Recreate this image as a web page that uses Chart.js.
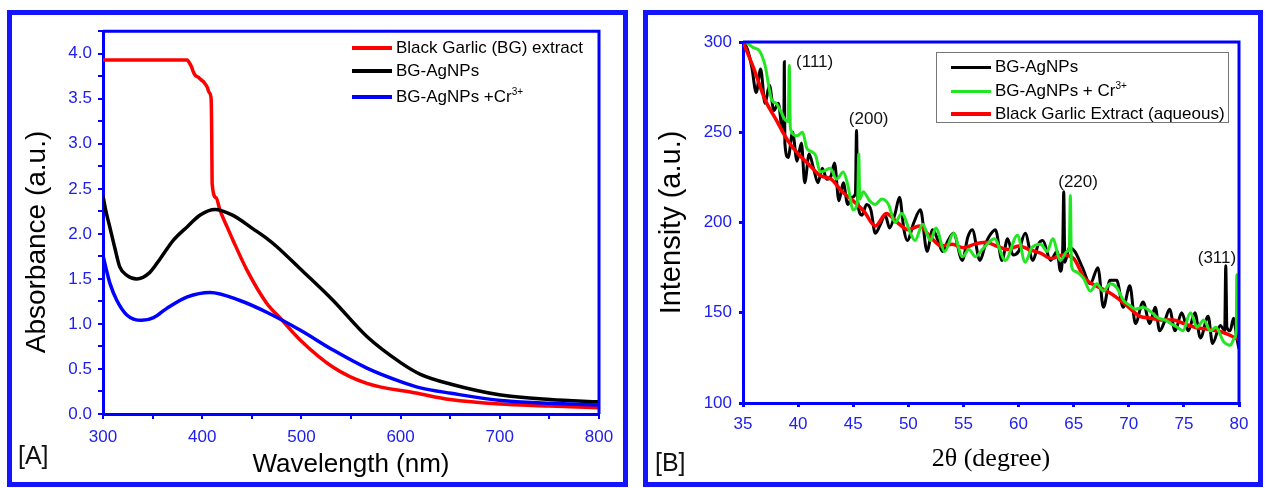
<!DOCTYPE html>
<html>
<head>
<meta charset="utf-8">
<script src="https://cdn.jsdelivr.net/npm/chart.js@4/dist/chart.umd.min.js"></script>
<style>
body { margin: 0; background: #fff; width: 1266px; height: 488px; position: relative; overflow: hidden;
       font-family: "Liberation Sans", Arial, sans-serif; }
.panel { position: absolute; top: 10px; height: 467px; border: 5px solid #1414ff; }
#panelA { left: 7px; width: 611px; }
#panelB { left: 643px; width: 610px; }
.panel canvas { position: absolute; left: 0; top: 0; }
.tag { position: absolute; font-size: 25px; line-height: 30px; color: #111; }
.legend { position: absolute; font-size: 17px; color: #000; }
.row { position: absolute; left: 0; height: 22px; display: flex; align-items: center; white-space: nowrap; }
.swatch { display: inline-block; width: 40px; height: 4px; margin-right: 4px; }
sup { font-size: 10px; line-height: 0; vertical-align: 7px; }
#legB { border: 1px solid #777; background: #fff; }
.ytitle { position: absolute; width: 280px; height: 34px; line-height: 34px; text-align: center;
          font-size: 28px; color: #000; transform: rotate(-90deg); }
</style>
</head>
<body>

<div class="panel" id="panelA">
  <canvas id="chartA" width="611" height="467"></canvas>
  <div class="ytitle" style="left:-116px;top:210px">Absorbance (a.u.)</div>
  <div class="legend" style="left:340px;top:22px;width:260px;height:80px">
    <div class="row" style="top:0"><span class="swatch" style="background:#ff0000"></span><span>Black Garlic (BG) extract</span></div>
    <div class="row" style="top:23px"><span class="swatch" style="background:#000"></span><span>BG-AgNPs</span></div>
    <div class="row" style="top:49px"><span class="swatch" style="background:#0000ff"></span><span>BG-AgNPs +Cr<sup>3+</sup></span></div>
  </div>
  <div class="tag" style="left:6px;top:425px">[A]</div>
</div>

<div class="panel" id="panelB">
  <canvas id="chartB" width="610" height="467"></canvas>
  <div class="legend" id="legB" style="left:288px;top:37px;width:291px;height:69px">
    <div class="row" style="top:3px;left:14px"><span class="swatch" style="background:#000;height:3px"></span><span>BG-AgNPs</span></div>
    <div class="row" style="top:27px;left:14px"><span class="swatch" style="background:#22e622;height:3px"></span><span>BG-AgNPs + Cr<sup>3+</sup></span></div>
    <div class="row" style="top:50px;left:14px"><span class="swatch" style="background:#ff0000"></span><span>Black Garlic Extract (aqueous)</span></div>
  </div>
  <div class="tag" style="left:7px;top:432px">[B]</div>
</div>

<script>
// ---- panel A : UV-vis absorbance ----
let extractWl  = [300, 340, 385, 387, 389, 391, 393, 396, 399, 402, 405, 407, 409, 409.6, 410, 414, 418, 425, 431, 445, 465, 479, 499, 532, 566, 617, 650, 700, 750, 800];
let extractAbs = [3.93, 3.93, 3.93, 3.90, 3.86, 3.80, 3.76, 3.74, 3.71, 3.68, 3.63, 3.57, 3.50, 3.10, 2.56, 2.40, 2.26, 2.08, 1.93, 1.60, 1.23, 1.06, 0.82, 0.52, 0.34, 0.23, 0.16, 0.11, 0.09, 0.07];

let agnpWl  = [300, 303, 307, 312, 317, 324, 334, 347, 358, 371, 385, 398, 413, 430, 452, 465, 475, 499, 532, 566, 600, 620, 651, 701, 751, 800];
let agnpAbs = [2.42, 2.25, 2.07, 1.84, 1.63, 1.54, 1.50, 1.57, 1.73, 1.93, 2.08, 2.21, 2.27, 2.21, 2.05, 1.95, 1.86, 1.61, 1.26, 0.86, 0.57, 0.44, 0.33, 0.21, 0.16, 0.135];

let crWl  = [300, 303, 307, 314, 324, 339, 351, 364, 385, 408, 438, 465, 499, 532, 566, 600, 620, 651, 701, 751, 800];
let crAbs = [1.76, 1.62, 1.45, 1.26, 1.10, 1.04, 1.07, 1.17, 1.30, 1.35, 1.26, 1.13, 0.93, 0.71, 0.51, 0.36, 0.29, 0.23, 0.15, 0.12, 0.10];

// ---- panel B : XRD ----
let blackTheta = [35.0, 35.4, 35.8, 36.2, 36.6, 37.0, 37.4, 37.8, 38.2, 38.6, 38.7, 38.75, 38.8, 39.1, 39.5, 39.9, 40.3, 40.6, 41.0, 41.4,
  41.8, 42.2, 42.6, 43.0, 43.3, 43.7, 44.1, 44.5, 44.9, 45.2, 45.3, 45.4, 45.8, 46.2, 46.6, 47.0, 47.4, 47.9, 48.3, 48.8,
  49.2, 49.6, 49.9, 50.5, 51.1, 51.7, 52.2, 52.7, 53.1, 53.6, 54.1, 54.9, 55.4, 55.8, 56.5, 57.0, 57.3, 57.9, 58.5, 59.0,
  59.5, 60.0, 60.6, 61.3, 61.8, 62.2, 62.9, 63.5, 63.8, 64.0, 64.1, 64.2, 64.6, 65.1, 65.8, 66.5, 67.2, 67.7, 68.3, 68.9,
  69.5, 70.1, 70.6, 71.3, 71.9, 72.4, 72.8, 73.3, 73.7, 74.2, 74.8, 75.4, 76.0, 76.5, 77.2, 77.6, 78.3, 78.7, 78.8, 78.9,
  79.2, 79.5, 79.8, 80.0];
let blackI = [300, 296, 286, 272, 285, 266, 276, 262, 266, 250, 252, 289, 244, 236, 250, 234, 244, 222, 238, 230,
  222, 230, 224, 226, 233, 212, 222, 210, 214, 216, 251, 212, 204, 210, 207, 194, 198, 204, 197, 205,
  214, 196, 190, 200, 207, 184, 196, 190, 184, 190, 194, 179, 192, 196, 179, 188, 192, 196, 179, 191,
  182, 184, 194, 179, 188, 190, 179, 184, 173, 184, 217, 178, 186, 184, 175, 166, 175, 153, 168, 168,
  153, 165, 144, 156, 144, 153, 140, 146, 152, 140, 150, 140, 150, 136, 148, 133, 143, 140, 176, 142,
  140, 147, 136, 130];

let greenTheta = [35.3, 35.9, 36.5, 37.0, 37.6, 38.0, 38.4, 38.8, 39.1, 39.2, 39.3, 39.9, 40.4, 40.8, 41.3, 41.6, 42.0, 42.5, 42.9, 43.5,
  44.1, 44.5, 45.0, 45.4, 45.5, 45.6, 45.9, 46.5, 47.0, 47.6, 48.2, 48.8, 49.4, 50.2, 50.6, 51.3, 52.0, 52.5, 53.3, 54.1,
  54.9, 55.5, 56.1, 56.7, 57.3, 57.8, 58.8, 59.9, 60.6, 61.2, 62.0, 62.6, 63.1, 63.8, 64.4, 64.6, 64.7, 64.8, 65.1, 65.9,
  66.5, 67.1, 67.7, 68.3, 68.9, 69.5, 70.1, 70.6, 71.3, 71.9, 72.7, 73.3, 73.8, 74.4, 74.9, 75.6, 76.2, 76.8, 77.4, 77.9,
  78.6, 79.2, 79.6, 79.75, 79.8, 79.85];
let greenI = [300, 297, 295, 287, 268, 266, 262, 257, 256, 287, 252, 248, 250, 241, 239, 237, 228, 229, 230, 224,
  228, 221, 207, 212, 238, 213, 217, 212, 210, 213, 210, 200, 205, 194, 190, 199, 190, 197, 184, 194,
  181, 185, 181, 185, 189, 191, 179, 193, 178, 186, 188, 184, 191, 179, 184, 186, 215, 176, 173, 169,
  162, 166, 162, 166, 164, 157, 154, 152, 153, 151, 147, 146, 144, 142, 140, 150, 142, 146, 140, 142,
  134, 132, 136, 140, 171, 141];

let redTheta = [35, 36, 37, 38, 39, 40, 41, 42, 43, 44, 45, 46, 47, 48, 49, 50, 51, 52, 53, 54, 55, 56, 57,
  58, 59, 60, 61, 62, 63, 64, 65, 66, 67, 68, 69, 70, 71, 72, 73, 74, 75, 76, 77, 78, 79, 80];
let redI = [300, 285, 268, 257, 246, 238, 232, 226, 224, 217, 212, 206, 198, 205, 200, 196, 198, 192, 187, 188, 186, 188, 189,
  187, 185, 187, 185, 183, 180, 182, 180, 169, 165, 162, 158, 153, 148, 147, 146, 146, 144, 142, 141, 140, 138, 135];

let peakText  = ['(111)', '(200)', '(220)', '(311)'];
let peakTheta = [41.5, 46.4, 65.4, 78.0];
let peakLevel = [289, 257, 222, 180];

const blue = '#0000ff';
const tickBlue = '#2020ee';
const font = '"Liberation Sans", Arial, sans-serif';

Chart.defaults.font.family = font;

function pts(xs, ys) {
    return xs.map((x, i) => ({ x: x, y: ys[i] }));
}

// top and right edges of the plot box
const boxFrame = {
    id: 'boxFrame',
    afterDatasetsDraw(chart) {
        let a = chart.chartArea;
        let ctx = chart.ctx;
        ctx.save();
        ctx.strokeStyle = blue;
        ctx.lineWidth = 3;
        ctx.beginPath();
        ctx.moveTo(a.left, a.top);
        ctx.lineTo(a.right, a.top);
        ctx.lineTo(a.right, a.bottom);
        ctx.stroke();
        ctx.restore();
    }
};

const peakNotes = {
    id: 'peakNotes',
    afterDatasetsDraw(chart) {
        let ctx = chart.ctx;
        let sx = chart.scales.x, sy = chart.scales.y;
        ctx.save();
        ctx.font = '17px ' + font;
        ctx.fillStyle = '#111';
        ctx.textAlign = 'center';
        ctx.textBaseline = 'middle';
        peakText.forEach((t, i) => {
            ctx.fillText(t, sx.getPixelForValue(peakTheta[i]), sy.getPixelForValue(peakLevel[i]));
        });
        ctx.restore();
    }
};

function axis(extra) {
    return Object.assign({
        type: 'linear',
        border: { color: blue, width: 3 },
        grid: { drawOnChartArea: false, color: blue, lineWidth: 2, tickLength: 5 }
    }, extra);
}

new Chart(document.getElementById('chartA'), {
    type: 'line',
    data: {
        datasets: [
            { data: pts(crWl, crAbs), borderColor: '#0000ff', borderWidth: 3.5 },
            { data: pts(agnpWl, agnpAbs), borderColor: '#000000', borderWidth: 3.5 },
            { data: pts(extractWl, extractAbs), borderColor: '#ff0000', borderWidth: 3.5 }
        ]
    },
    options: {
        responsive: false,
        animation: false,
        elements: { point: { radius: 0 }, line: { cubicInterpolationMode: 'monotone' } },
        layout: { padding: { top: 16, right: 24, left: 0, bottom: 0 } },
        plugins: { legend: { display: false }, tooltip: { enabled: false } },
        scales: {
            x: axis({
                min: 300, max: 800,
                afterFit: s => { s.height = 68; },
                ticks: {
                    stepSize: 50, autoSkip: false, maxRotation: 0, maxTicksLimit: 100,
                    color: tickBlue, font: { size: 17 }, padding: 8,
                    callback: v => v % 100 === 0 ? String(v) : ''
                },
                title: { display: true, text: 'Wavelength (nm)', color: '#000', font: { size: 26 }, padding: { top: 0, bottom: 2 } }
            }),
            y: axis({
                min: 0, max: 4.25,
                afterFit: s => { s.width = 91; },
                ticks: {
                    stepSize: 0.25, autoSkip: false, maxTicksLimit: 100,
                    color: tickBlue, font: { size: 17 }, padding: 6,
                    callback: v => Math.abs(v * 2 - Math.round(v * 2)) < 1e-6 ? v.toFixed(1) : ''
                }
            })
        }
    },
    plugins: [boxFrame]
});

new Chart(document.getElementById('chartB'), {
    type: 'line',
    data: {
        datasets: [
            { data: pts(greenTheta, greenI), borderColor: '#22e622', borderWidth: 3, order: 1 },
            { data: pts(redTheta, redI), borderColor: '#ff0000', borderWidth: 3.5, order: 2 },
            { data: pts(blackTheta, blackI), borderColor: '#000000', borderWidth: 3, order: 3 }
        ]
    },
    options: {
        responsive: false,
        animation: false,
        elements: { point: { radius: 0 }, line: { cubicInterpolationMode: 'monotone' } },
        layout: { padding: { top: 27, right: 19, left: 0, bottom: 0 } },
        plugins: { legend: { display: false }, tooltip: { enabled: false } },
        scales: {
            x: axis({
                min: 35, max: 80,
                afterFit: s => { s.height = 79; },
                grid: { drawOnChartArea: false, color: blue, lineWidth: 3, tickLength: 4 },
                ticks: { stepSize: 5, autoSkip: false, maxRotation: 0, color: tickBlue, font: { size: 17 }, padding: 7 },
                title: { display: true, text: '2θ (degree)', color: '#000',
                         font: { size: 26, family: '"Liberation Serif", "Times New Roman", serif' }, padding: { top: 0, bottom: 7 } }
            }),
            y: axis({
                min: 100, max: 300,
                afterFit: s => { s.width = 95; },
                grid: { drawOnChartArea: false, color: blue, lineWidth: 3, tickLength: 4 },
                ticks: { stepSize: 50, autoSkip: false, color: tickBlue, font: { size: 17 }, padding: 7 },
                title: { display: true, text: 'Intensity (a.u.)', color: '#000', font: { size: 29 }, padding: { top: 7, bottom: 0 } }
            })
        }
    },
    plugins: [boxFrame, peakNotes]
});
</script>
</body>
</html>
